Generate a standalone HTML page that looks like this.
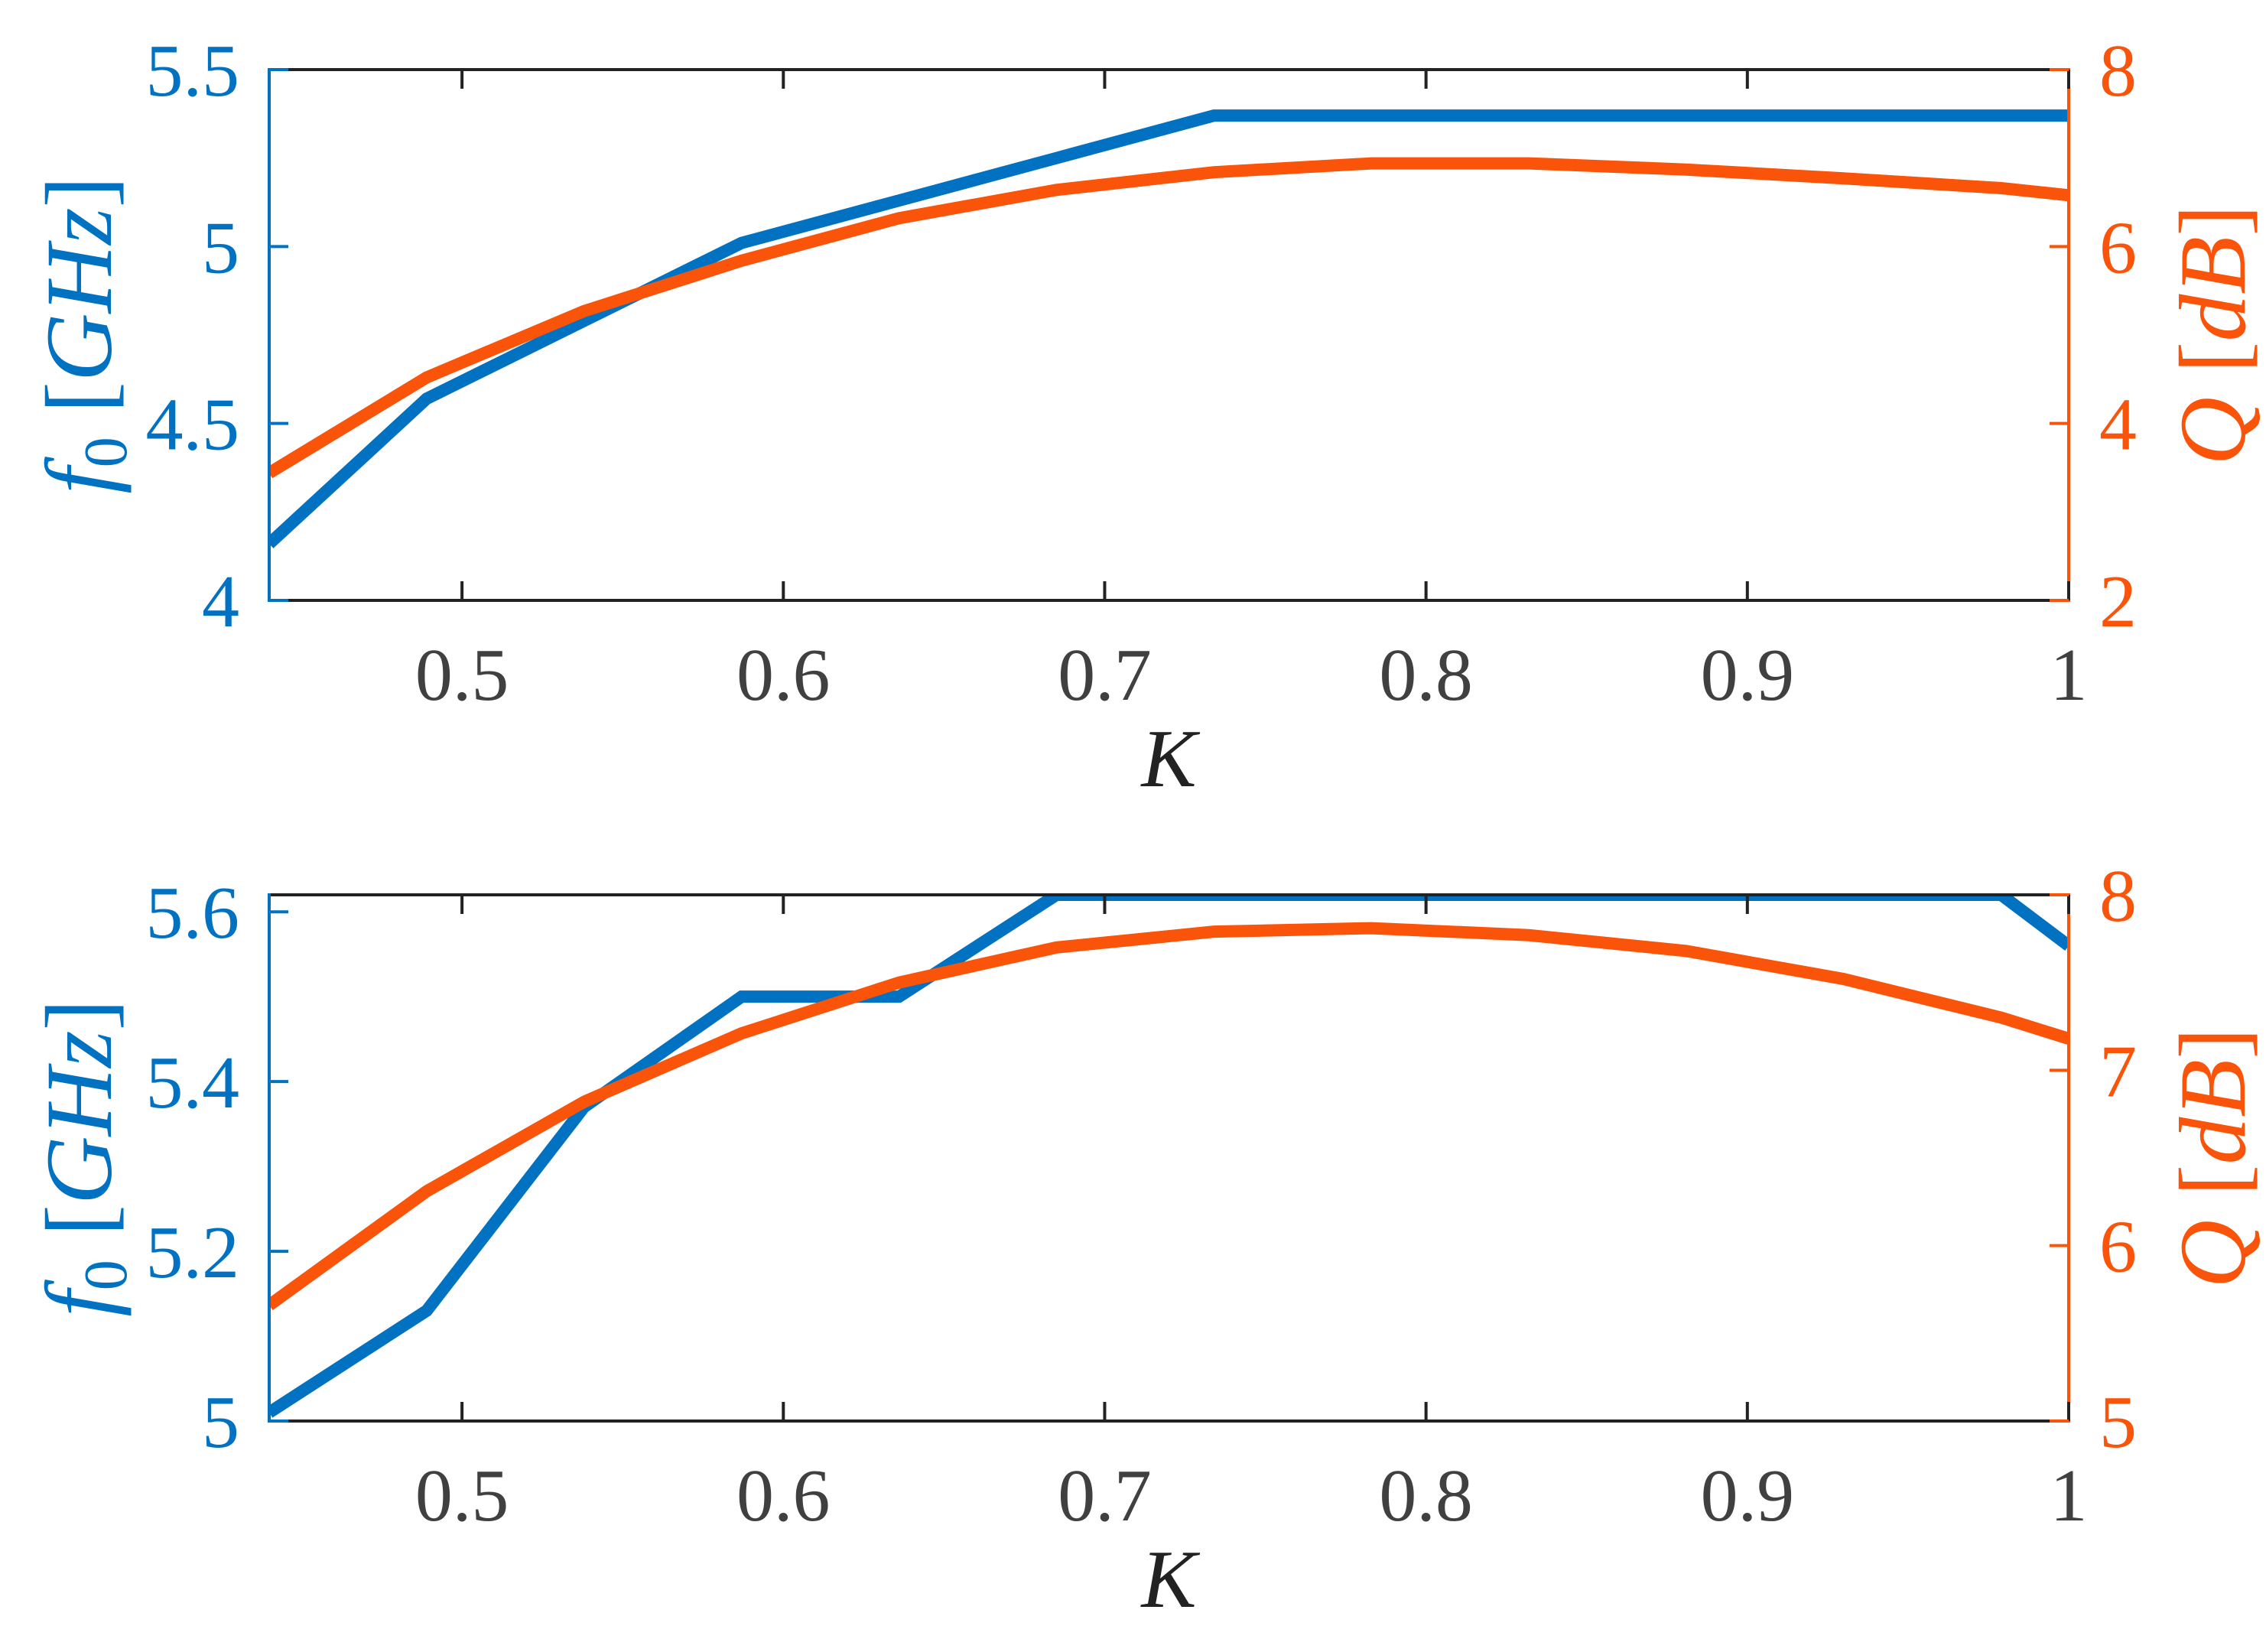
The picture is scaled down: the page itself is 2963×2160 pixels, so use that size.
<!DOCTYPE html>
<html><head><meta charset="utf-8"><style>
html,body{margin:0;padding:0;background:#fff;}
svg{display:block;font-family:"Liberation Serif","Times New Roman",serif;}
</style></head><body>
<svg id="chart" width="2963" height="2160" viewBox="0 0 2963 2160" xmlns="http://www.w3.org/2000/svg"></svg>
<script>
const kValues = [0.44,0.489,0.538,0.587,0.636,0.685,0.734,0.783,0.832,0.881,0.93,0.979,1.0];
const topF0 = [4.16,4.57,4.79,5.01,5.13,5.25,5.37,5.37,5.37,5.37,5.37,5.37,5.37];
const topQ = [3.44,4.52,5.27,5.84,6.32,6.64,6.84,6.94,6.94,6.87,6.77,6.66,6.58];
const botF0 = [5.01,5.13,5.37,5.50,5.50,5.62,5.62,5.62,5.62,5.62,5.62,5.62,5.56];
const botQ = [5.66,6.31,6.82,7.21,7.50,7.70,7.79,7.81,7.77,7.68,7.52,7.30,7.18];
const xTicks = [0.5,0.6,0.7,0.8,0.9,1];
const xTickLabels = ["0.5","0.6","0.7","0.8","0.9","1"];
const topLeftTicks = [4,4.5,5,5.5];
const topLeftLabels = ["4","4.5","5","5.5"];
const topRightTicks = [2,4,6,8];
const topRightLabels = ["2","4","6","8"];
const botLeftTicks = [5,5.2,5.4,5.6];
const botLeftLabels = ["5","5.2","5.4","5.6"];
const botRightTicks = [5,6,7,8];
const botRightLabels = ["5","6","7","8"];

const NS="http://www.w3.org/2000/svg";
const svg=document.getElementById('chart');
const BLUE="#0072C1", ORANGE="#F9540A", GRAY="#404040";
const X0=352, X1=2705, KMIN=0.44, KMAX=1.0;
function xs(k){return X0+(k-KMIN)/(KMAX-KMIN)*(X1-X0);}
function mk(tag,attrs,parent){const e=document.createElementNS(NS,tag);for(const a in attrs)e.setAttribute(a,attrs[a]);(parent||svg).appendChild(e);return e;}

function panel(id,top,bottom,lmin,lmax,rmin,rmax,f0,q,lt,ll,rt,rl,tickBase,kBase){
  const g=mk('g',{});
  
  
  const yl=v=>bottom-(v-lmin)/(lmax-lmin)*(bottom-top);
  const yr=v=>bottom-(v-rmin)/(rmax-rmin)*(bottom-top);
  const cp=mk('clipPath',{id:id+'-clip'},g);
  mk('rect',{x:X0,y:top,width:X1-X0,height:bottom-top},cp);
  const pf=kValues.map((k,i)=>xs(k)+','+yl(f0[i])).join(' ');
  const l1=mk('polyline',{points:pf,fill:'none',stroke:BLUE,'stroke-width':16,'stroke-linejoin':'miter','clip-path':'url(#'+id+'-clip)'},g);
  
  
  const pq=kValues.map((k,i)=>xs(k)+','+yr(q[i])).join(' ');
  const l2=mk('polyline',{points:pq,fill:'none',stroke:ORANGE,'stroke-width':16,'stroke-linejoin':'miter','clip-path':'url(#'+id+'-clip)'},g);
  
  
  mk('line',{x1:X0,y1:top,x2:X1,y2:top,stroke:'#222',"stroke-width":4},g);
  mk('line',{x1:X0,y1:bottom,x2:X1,y2:bottom,stroke:'#222',"stroke-width":4},g);
  mk('line',{x1:X0,y1:top-2,x2:X0,y2:bottom+2,stroke:BLUE,"stroke-width":4},g);
  mk('line',{x1:X1,y1:top-2,x2:X1,y2:bottom+2,stroke:ORANGE,"stroke-width":4},g);
  xTicks.forEach((k,i)=>{
    const x=xs(k);
    mk('line',{x1:x,y1:bottom,x2:x,y2:bottom-25,stroke:'#222','stroke-width':4},g);
    mk('line',{x1:x,y1:top,x2:x,y2:top+25,stroke:'#222','stroke-width':4},g);
    const t=mk('text',{x:x,y:tickBase,'text-anchor':'middle','font-size':98,fill:GRAY},g);
    t.textContent=xTickLabels[i];
    
    
  });
  lt.forEach((v,i)=>{
    const y=yl(v);
    mk('line',{x1:X0,y1:y,x2:X0+25,y2:y,stroke:BLUE,'stroke-width':4},g);
    const t=mk('text',{x:313,y:y+34,'text-anchor':'end','font-size':98,fill:BLUE},g);
    t.textContent=ll[i];
    
    
  });
  rt.forEach((v,i)=>{
    const y=yr(v);
    mk('line',{x1:X1,y1:y,x2:X1-25,y2:y,stroke:ORANGE,'stroke-width':4},g);
    const t=mk('text',{x:2745,y:y+34,'text-anchor':'start','font-size':98,fill:ORANGE},g);
    t.textContent=rl[i];
    
    
  });
  const cy=(top+bottom)/2;
  const ly=mk('text',{transform:'translate(145,'+cy+') rotate(-90)','text-anchor':'middle','font-size':124,fill:BLUE},g);
  ly.innerHTML='<tspan font-style="italic">f</tspan><tspan font-size="80" dy="20">0</tspan><tspan dy="-20"> [</tspan><tspan font-style="italic">GHz</tspan>]';
  
  
  const ry=mk('text',{transform:'translate(2935,'+cy+') rotate(-90)','text-anchor':'middle','font-size':124,fill:ORANGE},g);
  ry.innerHTML='<tspan font-style="italic">Q</tspan> [<tspan font-style="italic">dB</tspan>]';
  
  
  const kx=mk('text',{x:(X0+X1)/2,y:kBase,'text-anchor':'middle','font-size':108,'font-style':'italic',fill:'#222'},g);
  kx.textContent='K';
  
  
}
panel('top-panel',91,785,4,5.5,2,8,topF0,topQ,topLeftTicks,topLeftLabels,topRightTicks,topRightLabels,915,1028);
panel('bottom-panel',1170,1858,5,5.62,5,8,botF0,botQ,botLeftTicks,botLeftLabels,botRightTicks,botRightLabels,1988,2101);
</script>
</body></html>
